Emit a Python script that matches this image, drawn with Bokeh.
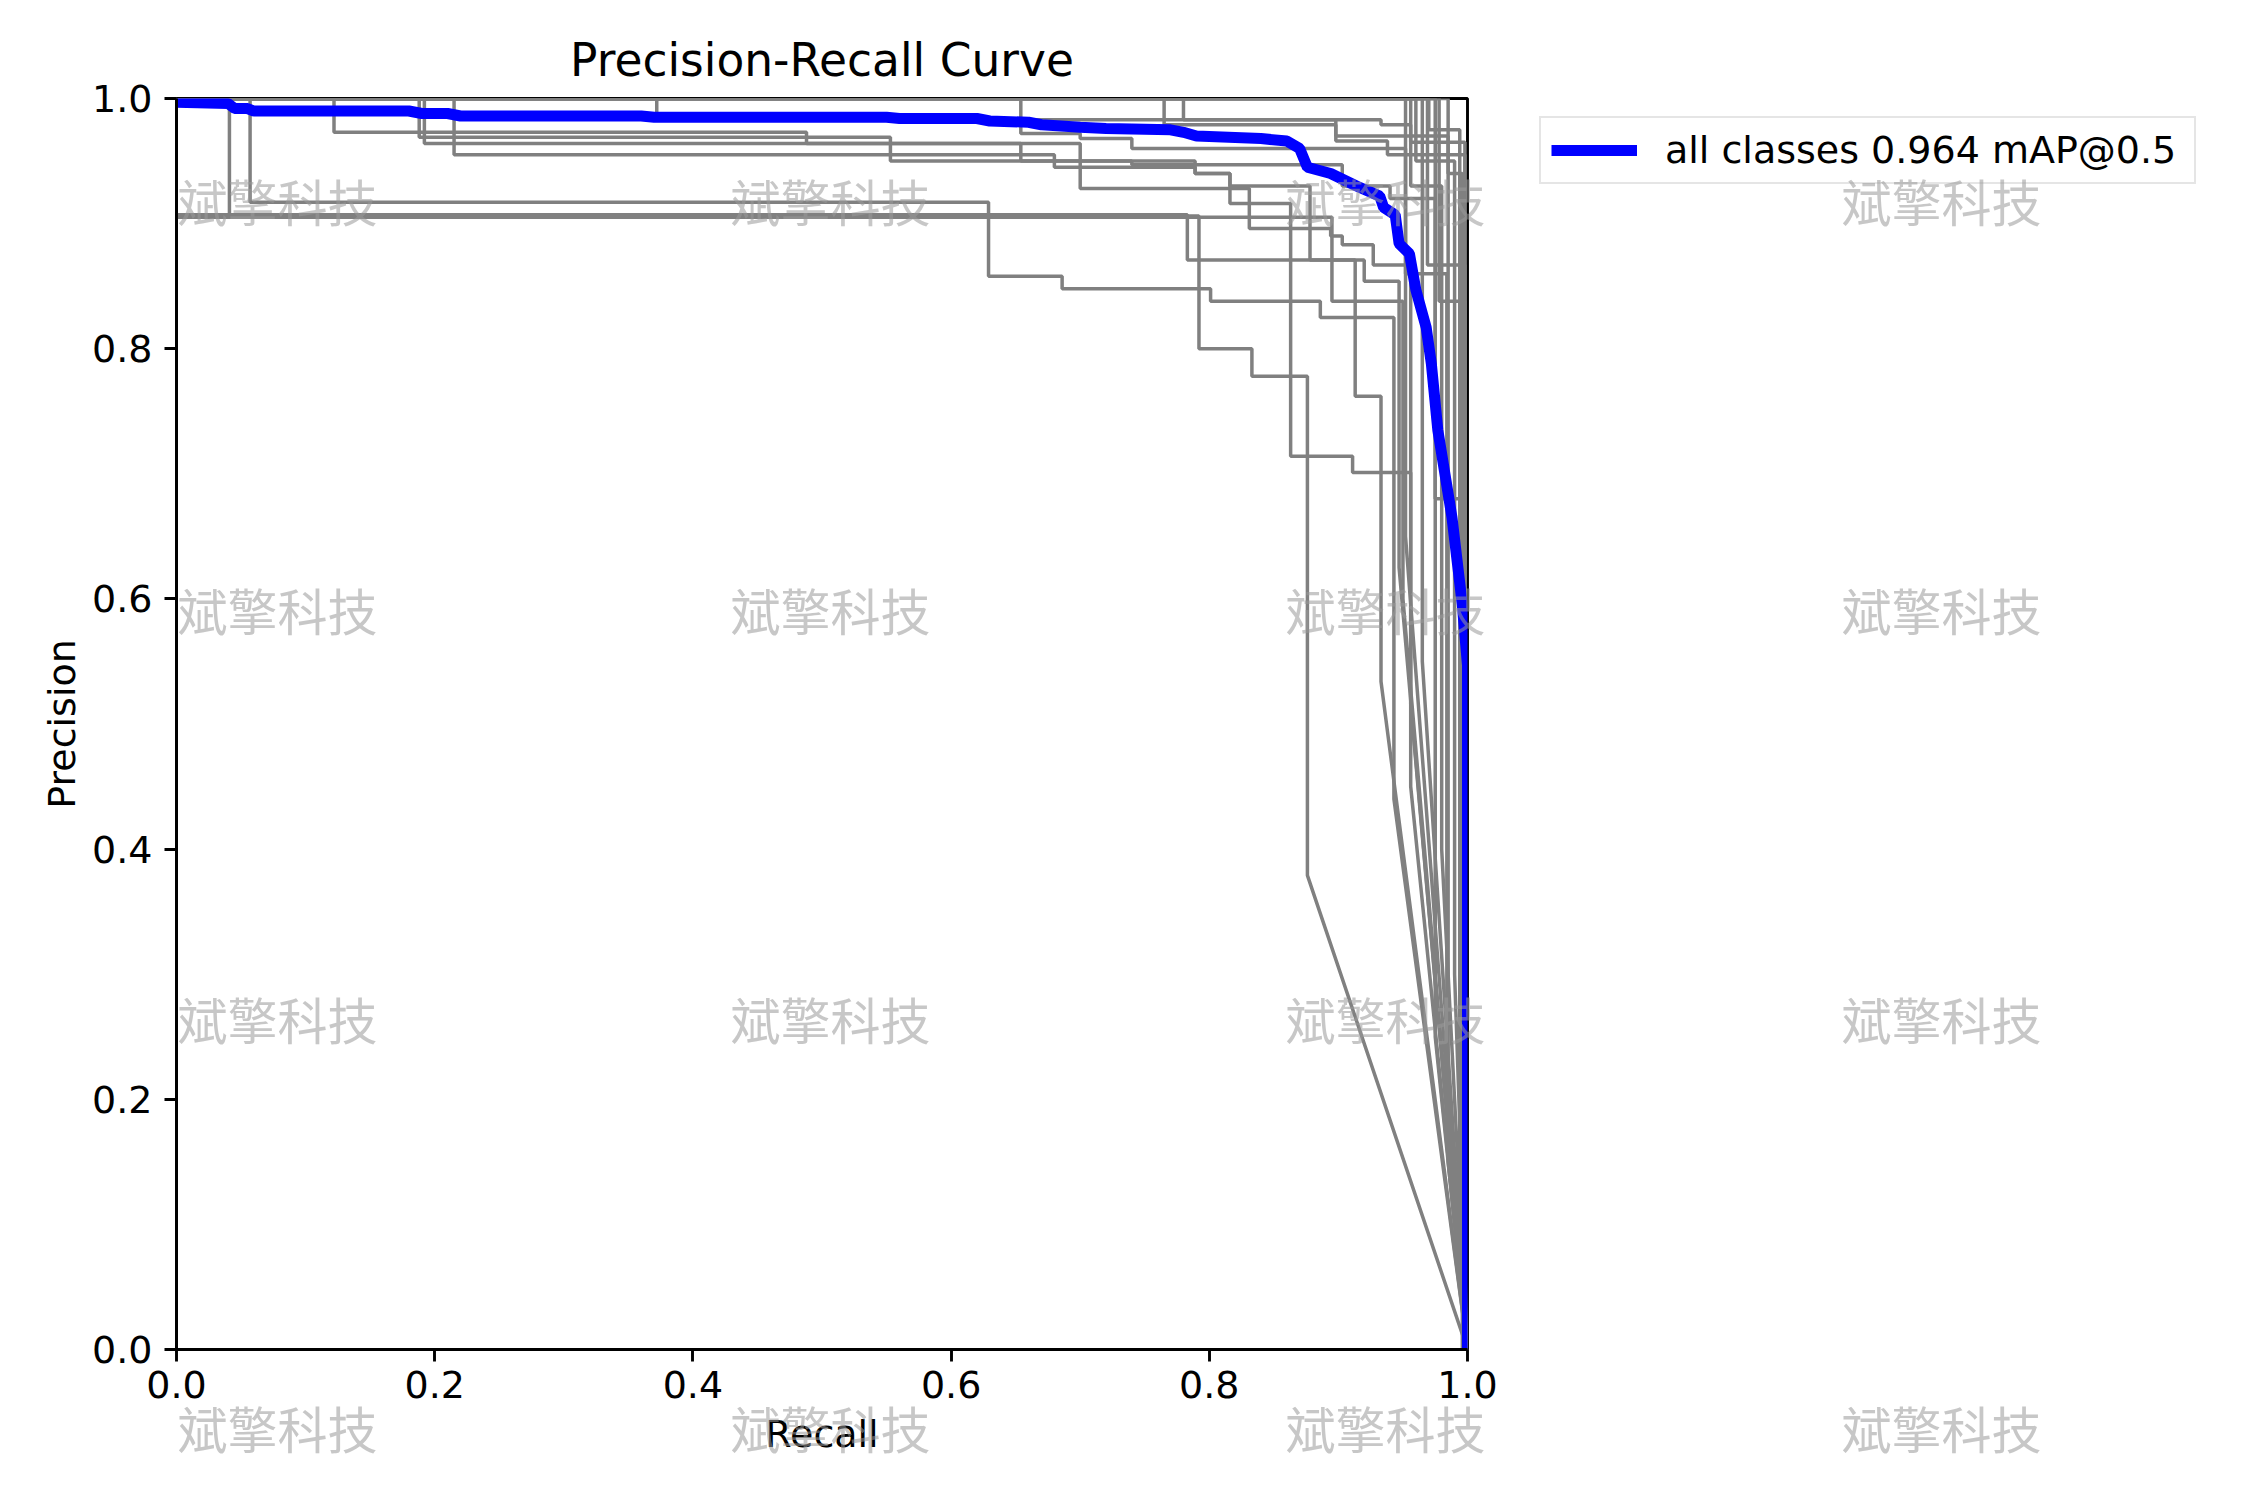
from bokeh.plotting import figure
from bokeh.models import FixedTicker, PrintfTickFormatter, Range1d, Legend, LegendItem
from bokeh.layouts import column
from bokeh.core.properties import value
from bokeh.embed import file_html
from bokeh.resources import INLINE

# ---- data ----
x_ticks = [0.0, 0.2, 0.4, 0.6, 0.8, 1.0]
y_ticks = [0.0, 0.2, 0.4, 0.6, 0.8, 1.0]

# per-class PR curves: recall where the precision steps down, level before each step,
# precision at the end of the last vertical drop (then straight to (1, 0))
class_recall_steps = [
    [0.041, 0.792, 0.833, 0.876],
    [0.057, 0.629, 0.686, 0.801, 0.886, 0.943],
    [0.783, 0.920, 0.947],
    [0.895, 0.950],
    [0.122, 0.488, 0.654, 0.789, 0.816, 0.863, 0.911, 0.956],
    [0.192, 0.700, 0.831, 0.894, 0.903, 0.927, 0.956],
    [0.188, 0.553, 0.680, 0.789, 0.816, 0.878, 0.913, 0.933],
    [0.215, 0.553, 0.740, 0.903, 0.940, 0.975],
    [0.372, 0.765, 0.898, 0.985],
    [0.765, 0.898, 0.938, 0.998],
    [0.969, 0.998],
    [0.975, 0.998],
    [0.978, 0.998],
    [0.780, 0.933, 0.956, 0.998],
    [0.654, 0.700, 0.740, 0.952],
    [0.952, 0.984],
    [0.960, 0.990],
    [0.965],
    [0.970, 0.994],
    [0.985, 0.996],
    [0.956, 0.980],
]
class_precision_levels = [
    [1.0, 0.906, 0.800, 0.778],
    [1.0, 0.917, 0.858, 0.848, 0.838, 0.825],
    [0.907, 0.871, 0.854],
    [0.905, 0.838],
    [1.0, 0.973, 0.964, 0.950, 0.940, 0.916, 0.714, 0.701],
    [1.0, 0.964, 0.928, 0.896, 0.890, 0.883, 0.867],
    [1.0, 0.969, 0.955, 0.945, 0.940, 0.930, 0.871, 0.762],
    [1.0, 0.955, 0.950, 0.947, 0.930, 0.920],
    [1.0, 0.983, 0.979, 0.970],
    [1.0, 0.983, 0.966, 0.955],
    [1.0, 0.867],
    [1.0, 0.680],
    [1.0, 0.838],
    [1.0, 0.983, 0.979, 0.965],
    [1.0, 0.972, 0.968, 0.960],
    [1.0, 0.860],
    [1.0, 0.950],
    [1.0],
    [1.0, 0.975],
    [1.0, 0.940],
    [1.0, 0.930],
]
class_end_precision = [0.379, 0.44, 0.625, 0.60, 0.516, 0.45, 0.534, 0.25, 0.15, 0.0,
                       0.0, 0.0, 0.0, 0.0, 0.65, 0.2, 0.3, 0.55, 0.1, 0.0, 0.4]

all_recall = [0.0, 0.040, 0.045, 0.055, 0.060, 0.180, 0.190, 0.210, 0.220, 0.360, 0.370,
              0.550, 0.560, 0.620, 0.630, 0.660, 0.670, 0.700, 0.720, 0.770, 0.780, 0.790,
              0.840, 0.860, 0.870, 0.876, 0.894, 0.914, 0.932, 0.935, 0.944, 0.947, 0.955,
              0.960, 0.968, 0.972, 0.977, 0.988, 0.996, 1.0, 1.0]
all_precision = [0.997, 0.996, 0.992, 0.992, 0.990, 0.990, 0.988, 0.988, 0.986, 0.986, 0.985,
                 0.985, 0.984, 0.984, 0.982, 0.981, 0.979, 0.977, 0.976, 0.975, 0.973, 0.970,
                 0.968, 0.966, 0.960, 0.945, 0.940, 0.930, 0.922, 0.913, 0.907, 0.884, 0.876,
                 0.847, 0.817, 0.788, 0.735, 0.665, 0.595, 0.547, 0.0]
legend_text = "all classes 0.964 mAP@0.5"
watermark_text = "斌擎科技"

# ---- layout constants (pixels) ----
LEFT, TOP = 176, 98
FW, FH = 1291, 1251
RIGHT_B, BOTTOM_B = 775, 145
X_OFF = 178            # horizontal offset at which the overlay element is laid out
OW, OH = 2060, 1490

p = figure(frame_width=FW, frame_height=FH, output_backend="svg", toolbar_location=None,
           x_range=Range1d(0, 1), y_range=Range1d(0, 1),
           min_border_left=LEFT, min_border_right=RIGHT_B, min_border_top=TOP,
           min_border_bottom=BOTTOM_B, title="Precision-Recall Curve")
p.background_fill_color = "white"
p.border_fill_color = "white"
p.grid.visible = False
p.outline_line_color = "black"
p.outline_line_width = 2.9

p.title.text_font = "DejaVu Sans"
p.title.text_font_size = "45.5px"
p.title.text_font_style = "normal"
p.title.align = "center"
p.title.text_color = "black"
p.title.standoff = 23

for ax, lab in ((p.xaxis, "Recall"), (p.yaxis, "Precision")):
    ax.axis_label = lab
    ax.axis_label_text_font = "DejaVu Sans"
    ax.axis_label_text_font_size = "38px"
    ax.axis_label_text_font_style = "normal"
    ax.axis_label_text_color = "black"
    ax.major_label_text_font = "DejaVu Sans"
    ax.major_label_text_font_size = "38px"
    ax.major_label_text_color = "black"
    ax.major_tick_out = 12
    ax.major_tick_in = 0
    ax.major_tick_line_width = 2.9
    ax.minor_tick_line_color = None
    ax.axis_line_width = 2.9
    ax.formatter = PrintfTickFormatter(format="%.1f")
p.xaxis.ticker = FixedTicker(ticks=x_ticks)
p.yaxis.ticker = FixedTicker(ticks=y_ticks)
p.xaxis.major_label_standoff = 9
p.yaxis.major_label_standoff = 12
p.xaxis.axis_label_standoff = 11
p.yaxis.axis_label_standoff = 5

# class curves
for rs, ls, pend in zip(class_recall_steps, class_precision_levels, class_end_precision):
    xs, ys = [0.0], [ls[0]]
    for i, r in enumerate(rs):
        xs.append(r); ys.append(ls[i])
        if i + 1 < len(ls):
            xs.append(r); ys.append(ls[i + 1])
    xs.append(rs[-1]); ys.append(pend)
    xs.append(1.0); ys.append(0.0)
    p.line(xs, ys, line_color="#808080", line_width=3.5)

blue = p.line(all_recall, all_precision, line_color="#0000ff", line_width=11)

lg = Legend(items=[LegendItem(label=legend_text, renderers=[blue])],
            location=(72, 1165))
lg.label_text_font = "DejaVu Sans"
lg.label_text_font_size = "38px"
lg.label_text_color = "black"
lg.glyph_width = 86
lg.glyph_height = 38
lg.label_height = 38
lg.label_width = 519
lg.label_standoff = 28
lg.padding = 10
lg.margin = 0
lg.border_line_color = "#cccccc"
lg.border_line_width = 2.8
lg.background_fill_alpha = 0.8
p.add_layout(lg, "right")

# transparent overlay carrying the watermark grid over the whole picture
wm = figure(frame_width=OW, frame_height=OH, output_backend="svg", toolbar_location=None,
            x_range=Range1d(X_OFF, X_OFF + OW), y_range=Range1d(OH, 0),
            x_axis_type=None, y_axis_type=None,
            min_border_left=0, min_border_right=0, min_border_top=0, min_border_bottom=0,
            sizing_mode="fixed")
wm.grid.visible = False
wm.outline_line_color = None
wm.background_fill_alpha = 0
wm.border_fill_alpha = 0
wm_cols_px = [179, 732, 1287, 1843]
wm_rows_px = [199, 608, 1017, 1426]
wx = [c for r in wm_rows_px for c in wm_cols_px]
wy = [r for r in wm_rows_px for c in wm_cols_px]
wm.text(x=wx, y=wy, text=[watermark_text] * len(wx), text_font=value("Noto Sans CJK SC"),
        text_font_size="50px", text_color="#999999", text_alpha=0.55,
        text_align="left", text_baseline="middle")
wm.styles = {"position": "absolute", "left": "0px", "top": "0px",
             "width": f"{OW}px", "height": f"{OH}px", "pointer-events": "none"}

root = column(p, wm, styles={"position": "relative"})
open("out.html", "w").write(file_html(root, INLINE))
